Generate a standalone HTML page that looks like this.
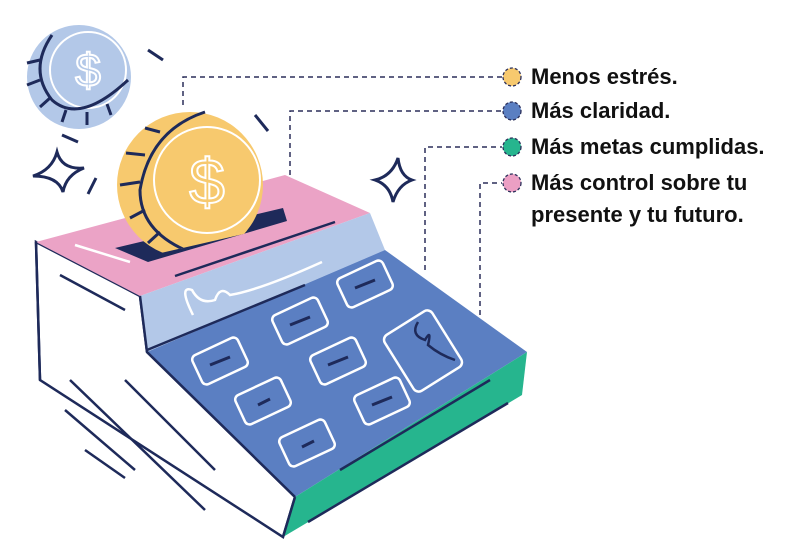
<!DOCTYPE html>
<html><head><meta charset="utf-8"><style>
html,body{margin:0;padding:0;background:#fff;width:800px;height:557px;overflow:hidden}
svg{display:block}
text{font-family:"Liberation Sans",sans-serif;font-weight:bold;font-size:22px;fill:#111}
</style></head><body>
<svg width="800" height="557" viewBox="0 0 800 557">
<defs><clipPath id="c"><polygon points="0,0 800,0 800,200 300,221 100,267 0,267"/></clipPath></defs>
<g stroke="#2b2f5a" stroke-width="1.5" stroke-dasharray="5,4" fill="none">
<path d="M183,105 V77 H502"/>
<path d="M290,175 V111 H502"/>
<path d="M425,270 V147 H502"/>
<path d="M480,315 V183 H502"/>
</g>
<g stroke="#2b2f5a" stroke-width="1.3" stroke-dasharray="3,2">
<circle cx="512" cy="77" r="9" fill="#f7c96e"/>
<circle cx="512" cy="111" r="9" fill="#5b7fc2"/>
<circle cx="512" cy="147" r="9" fill="#26b58e"/>
<circle cx="512" cy="183" r="9" fill="#eb9fc4"/>
</g>
<text x="531" y="84">Menos estrés.</text>
<text x="531" y="118">Más claridad.</text>
<text x="531" y="154">Más metas cumplidas.</text>
<text x="531" y="190">Más control sobre tu</text>
<text x="531" y="222">presente y tu futuro.</text>

<!-- blue coin -->
<circle cx="79" cy="77" r="52" fill="#b3c8e8"/>
<circle cx="88" cy="70" r="38" fill="none" stroke="#fff" stroke-width="2"/>
<text x="88" y="86" style="font-size:46px;font-weight:normal;fill:none;stroke:#fff;stroke-width:2" text-anchor="middle">$</text>
<path d="M52,35 Q28,70 52,100 Q80,125 128,80" fill="none" stroke="#1e2a5a" stroke-width="3"/>
<g stroke="#1e2a5a" stroke-width="3">
<line x1="40" y1="60" x2="27" y2="63"/><line x1="40" y1="80" x2="27" y2="85"/>
<line x1="50" y1="98" x2="40" y2="107"/><line x1="66" y1="110" x2="62" y2="122"/>
<line x1="87" y1="112" x2="87" y2="125"/><line x1="107" y1="104" x2="111" y2="115"/>
<line x1="148" y1="50" x2="163" y2="60"/><line x1="62" y1="135" x2="78" y2="142"/>
<line x1="255" y1="115" x2="268" y2="131"/><line x1="96" y1="178" x2="88" y2="194"/>
</g>
<path d="M33,176 Q52,170 57,152 Q62,170 84,168 Q66,175 63,192 Q58,176 33,176Z" fill="none" stroke="#1e2a5a" stroke-width="3"/>
<path d="M375,180 Q392,176 398,158 Q400,176 412,180 Q398,185 393,202 Q390,185 375,180Z" fill="none" stroke="#1e2a5a" stroke-width="3"/>

<!-- calculator -->
<polygon points="36,242 140,296 147,352 295,497 283,537 40,380" fill="#fff" stroke="#1e2a5a" stroke-width="2.5"/>
<polygon points="36,242 285,175 370,213 140,296" fill="#eba3c6"/>
<polygon points="140,296 370,213 385,250 147,352" fill="#b3c8e8"/>
<polygon points="147,352 385,250 527,352 295,497" fill="#5b7fc2"/>
<polygon points="295,497 527,352 522,395 283,537" fill="#26b58e"/>
<polygon points="115,248 283,208 287,221 148,262" fill="#1e2a5a"/>
<!-- yellow coin -->
<g clip-path="url(#c)">
<circle cx="190" cy="185" r="73" fill="#f7c96e"/>
<circle cx="207" cy="180" r="53" fill="none" stroke="#fff" stroke-width="2"/>
<text x="207" y="204" style="font-size:64px;font-weight:normal;fill:none;stroke:#fff;stroke-width:2" text-anchor="middle">$</text>
<path d="M205,112 Q150,130 140,190 Q140,230 185,250" fill="none" stroke="#1e2a5a" stroke-width="3"/>
<g stroke="#1e2a5a" stroke-width="3">
<line x1="160" y1="132" x2="145" y2="128"/><line x1="145" y1="155" x2="126" y2="153"/>
<line x1="140" y1="182" x2="120" y2="185"/><line x1="145" y1="210" x2="130" y2="218"/>
<line x1="160" y1="232" x2="148" y2="243"/>
</g>
</g>
<g stroke="#1e2a5a" stroke-width="2.5" fill="none">
<line x1="140" y1="296" x2="147" y2="352"/><line x1="147" y1="352" x2="295" y2="497"/>
<line x1="295" y1="497" x2="283" y2="537"/><line x1="36" y1="242" x2="40" y2="380"/>
<line x1="175" y1="276" x2="335" y2="222"/><line x1="147" y1="350" x2="305" y2="285"/>
<line x1="340" y1="470" x2="490" y2="380"/><line x1="308" y1="522" x2="508" y2="403"/>
<line x1="60" y1="275" x2="125" y2="310"/>
<line x1="70" y1="380" x2="205" y2="510"/><line x1="125" y1="380" x2="215" y2="470"/>
<line x1="65" y1="410" x2="135" y2="470"/><line x1="85" y1="450" x2="125" y2="478"/>
</g>
<line x1="75" y1="245" x2="130" y2="262" stroke="#fff" stroke-width="2.5"/>
<path d="M193,315 Q178,285 192,290 Q200,305 215,300 Q220,285 230,295 Q260,290 322,262" fill="none" stroke="#fff" stroke-width="2.5"/>
<g stroke="#fff" stroke-width="2.5" fill="none">
<rect x="275" y="305" width="50" height="32" rx="5" transform="rotate(-25 300 321)"/>
<rect x="340" y="268" width="50" height="32" rx="5" transform="rotate(-25 365 284)"/>
<rect x="195" y="345" width="50" height="32" rx="5" transform="rotate(-25 220 361)"/>
<rect x="313" y="345" width="50" height="32" rx="5" transform="rotate(-25 338 361)"/>
<rect x="238" y="385" width="50" height="32" rx="5" transform="rotate(-25 263 401)"/>
<rect x="357" y="385" width="50" height="32" rx="5" transform="rotate(-25 382 401)"/>
<rect x="282" y="427" width="50" height="32" rx="5" transform="rotate(-25 307 443)"/>
<rect x="395" y="318" width="56" height="66" rx="6" transform="rotate(-32 423 351)"/>
</g>
<g stroke="#1e2a5a" stroke-width="3">
<line x1="290" y1="325" x2="310" y2="317"/><line x1="355" y1="288" x2="375" y2="280"/>
<line x1="210" y1="365" x2="230" y2="357"/><line x1="328" y1="365" x2="348" y2="357"/>
<line x1="258" y1="405" x2="270" y2="399"/><line x1="372" y1="405" x2="392" y2="397"/>
<line x1="302" y1="447" x2="314" y2="441"/>
</g>
<path d="M418,322 Q410,335 425,340 Q432,328 428,345 Q440,355 455,360" fill="none" stroke="#1e2a5a" stroke-width="2.5"/>
</svg>
</body></html>
